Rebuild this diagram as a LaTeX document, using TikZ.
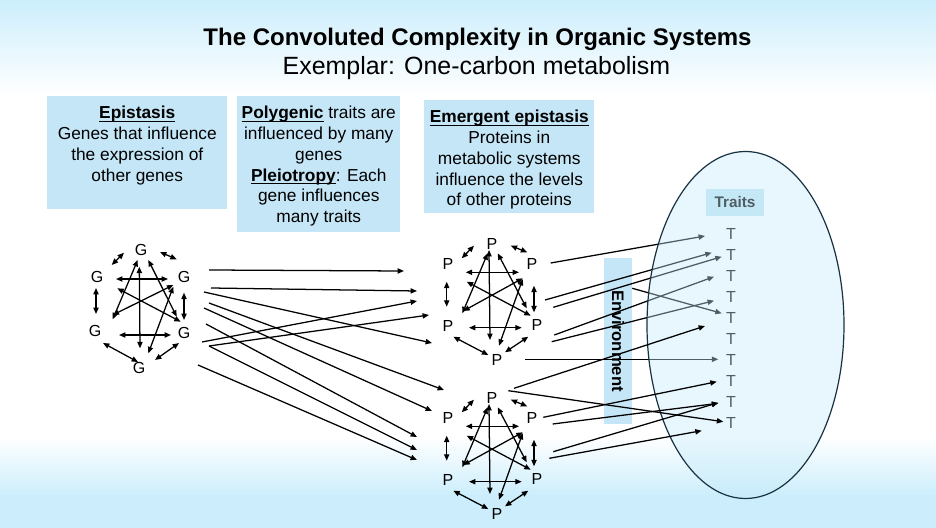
\documentclass[tikz,border=0pt]{standalone}
\usepackage{fontspec}
\setmainfont{Liberation Sans}
\usetikzlibrary{arrows.meta,calc}
\definecolor{bgblue}{RGB}{204,238,252}
\definecolor{boxblue}{RGB}{197,230,246}
\definecolor{ellfill}{RGB}{197,235,250}
\definecolor{ellline}{RGB}{25,50,65}
\tikzset{
  arr/.style={line width=0.95pt,-{Triangle[length=4.8pt,width=3.9pt]}},
  biarr/.style={line width=0.95pt,{Triangle[length=4.8pt,width=3.9pt]}-{Triangle[length=4.8pt,width=3.9pt]}},
  letter/.style={font=\fontsize{12}{14}\selectfont,inner sep=0pt},
  infobox/.style={fill=boxblue,inner sep=0pt,anchor=north west,font=\fontsize{13}{15.6}\selectfont},
}
\newcommand{\undl}[1]{\leavevmode\setbox0\hbox{#1}\rlap{\rule[-2.2pt]{\wd0}{0.8pt}}\box0\relax}
\newcommand{\conn}[5][biarr]{\draw[#1] ($(#2)+(#3)$) -- ($(#4)+(#5)$);}
\newcommand{\pnet}[2]{%
  \node[letter] (#11) at (492,{244+#2}) {P};
  \node[letter] (#12) at (448,{264+#2}) {P};
  \node[letter] (#13) at (532,{264+#2}) {P};
  \node[letter] (#14) at (448,{326+#2}) {P};
  \node[letter] (#15) at (537,{325+#2}) {P};
  \node[letter] (#16) at (497,{360+#2}) {P};
  \conn{#12}{13.7,-5.7}{#11}{-18,1.7}
  \conn{#11}{18.7,1.7}{#13}{-4.7,-11.7}
  \conn{#12}{-1.3,17.7}{#14}{-1.3,-19.3}
  \conn{#13}{2,21.7}{#15}{-3,-12.7}
  \conn{#12}{17.7,8.3}{#13}{-13,8.3}
  \conn{#14}{21,1.7}{#15}{-15.3,2.7}
  \conn{#11}{-3,6}{#16}{-7,-20}
  \conn{#14}{5.3,10.7}{#16}{-8.7,-5}
  \conn{#16}{8,-7.7}{#15}{-8.7,11.7}
  \conn{#11}{-4.3,9.3}{#14}{14.3,-12.7}
  \conn{#11}{5.7,9.3}{#15}{-10.3,-16.7}
  \conn{#13}{-9.3,14.3}{#14}{15.3,-15}
  \conn{#12}{18.7,17.7}{#15}{-6.3,-9.3}
  \conn{#13}{-9.3,15}{#16}{2,-14.3}
}
\begin{document}
\begin{tikzpicture}[x=0.75pt,y=-0.75pt]
\useasboundingbox (0,0) rectangle (936,528);
% background
\fill[white] (0,0) rectangle (936,528);
\shade[top color=bgblue,bottom color=white] (0,0) rectangle (936,95);
\shade[top color=white,bottom color=bgblue] (0,437) rectangle (936,495);
\fill[bgblue] (0,494.5) rectangle (936,528);
% titles
\node[anchor=base,font=\fontsize{18}{22}\selectfont\bfseries] (title) at (477.5,45.5) {The Convoluted Complexity in Organic Systems};
\node[anchor=base,font=\fontsize{18.7}{22}\selectfont] (subtitle) at (476.5,75) {Exemplar: One-carbon metabolism};
% info boxes
\node[infobox] (b1) at (47,96) {\parbox[t][84.75pt][t]{135pt}{\centering\vspace*{7.4pt}\undl{\textbf{Epistasis}}\\Genes that influence\\the expression of\\other genes}};
\node[infobox] (b2) at (237,96) {\parbox[t][102pt][t]{122.25pt}{\centering\vspace*{7.4pt}\undl{\textbf{Polygenic}} traits are\\influenced by many\\genes\\\undl{\textbf{Pleiotropy}}: Each\\gene influences\\many traits}};
\node[infobox] (b3) at (424,100) {\parbox[t][84.75pt][t]{127.5pt}{\centering\vspace*{7.4pt}\undl{\textbf{Emergent epistasis}}\\Proteins in\\metabolic systems\\influence the levels\\of other proteins}};
% environment
\node[fill=boxblue,rotate=-90,minimum width=124.5pt,minimum height=21pt,inner sep=0pt,font=\fontsize{12.5}{14}\selectfont\bfseries] (env) at (618,341) {Environment};
% G network
\node[letter] (g1) at (141,250) {G};
\node[letter] (g2) at (97,277) {G};
\node[letter] (g3) at (184,277) {G};
\node[letter] (g4) at (95,331) {G};
\node[letter] (g5) at (184,333) {G};
\node[letter] (g6) at (139,368) {G};
\conn{g2}{14.7,-12}{g1}{-17,2.7}
\conn{g1}{19,2}{g3}{-7.3,-17.7}
\conn{g2}{-1,11}{g4}{1,-17}
\conn{g3}{0,15.7}{g5}{0,-13}
\conn{g2}{19,2}{g3}{-16,2}
\conn{g4}{24,4}{g5}{-13,2}
\conn{g1}{-1.7,16.7}{g6}{1,-19.7}
\conn{g4}{8,12}{g6}{-1,-6}
\conn{g6}{16,-8}{g5}{-5,10}
\conn{g1}{-3.3,10}{g4}{17.7,-11.7}
\conn{g1}{7.3,10}{g5}{-7.3,-16.3}
\conn{g3}{-10.7,8}{g4}{17.7,-16}
\conn{g2}{20.3,11.3}{g5}{-3.3,-11.3}
\conn{g3}{-10.7,9.7}{g6}{9.3,-14.7}
% P networks
\pnet{p}{0}
\pnet{q}{154}
% G -> P
\conn[arr]{g3}{25,-7}{p2}{-44,7}
\conn[arr]{g3}{27,11}{p2}{-31,27}
\conn[arr]{g3}{20,15}{p4}{-16,17}
\conn[arr]{g3}{25,26}{q1}{-48,-8}
\conn[arr]{g5}{20,-25}{q2}{-16,-7}
\conn[arr]{g5}{22,-9}{q2}{-31,19}
\conn[arr]{g5}{18,9}{p2}{-31,37}
\conn[arr]{g5}{25,13}{p4}{-19,-11}
\conn[arr]{g5}{25,13}{q4}{-31,-30}
\conn[arr]{g6}{59,-3}{q4}{-31,-20}
% traits
\node[fill=boxblue,minimum width=43.5pt,minimum height=20.25pt,inner sep=0pt,font=\fontsize{11.5}{13}\selectfont\bfseries] (traits) at (735,202) {Traits};
\foreach \i in {1,...,10} \node[letter] (t\i) at (731,{233.5+21*(\i-1)}) {T};
% upper P -> T (under the ellipse)
\conn[arr]{p3}{18.7,-1}{t1}{-26,2.5}
\conn[arr]{p5}{8,-25}{t2}{-19.3,-1.8}
\conn[arr]{p5}{16.3,-17.7}{t2}{-9.3,2.2}
\conn[arr]{p5}{17.3,10}{t3}{-17,1.2}
\conn[arr]{p5}{14.7,16.7}{t4}{-17,4.2}
\conn[arr]{env.north}{0,-52.7}{t5}{-9.3,-4.2}
\conn[arr]{p6}{28,-0.7}{t7}{-12.7,-0.2}
% ellipse
\draw[draw=ellline,line width=0.9pt,fill=ellfill,fill opacity=0.4] (745.5,325) ellipse [x radius=73.875pt,y radius=130.125pt];
% lower P -> T (over the ellipse)
\conn[arr]{q1}{22,-9.7}{t6}{-26,-12.5}
\conn[arr]{q1}{16.3,-7.3}{t10}{-7.7,-0.8}
\conn[arr]{q3}{11.3,-0.7}{t8}{-14.3,1.2}
\conn[arr]{q3}{20.7,6}{t9}{-12.7,1.8}
\conn[arr]{q5}{16.3,-27.3}{t9}{-12.7,1.2}
\conn[arr]{q5}{12.3,-20.7}{t10}{-29.3,8.2}
\end{tikzpicture}
\end{document}
